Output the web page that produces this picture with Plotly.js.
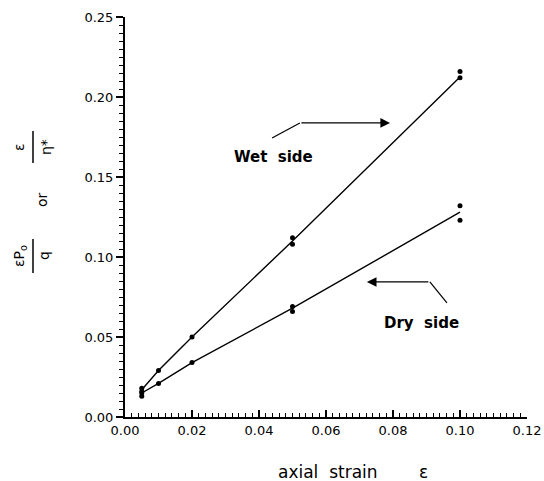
<!DOCTYPE html>
<html>
<head>
<meta charset="utf-8">
<script src="https://cdn.plot.ly/plotly-3.0.1.min.js"></script>
<style>html,body{margin:0;padding:0;background:#fff;}</style>
</head>
<body>
<div id="chart" style="width:544px;height:481px;"></div>
<script>
// Measured points (replicates)
var wetX = [0.005, 0.005, 0.01, 0.02, 0.05, 0.05, 0.10, 0.10];
var wetY = [0.018, 0.016, 0.029, 0.050, 0.112, 0.108, 0.216, 0.212];
var dryX = [0.005, 0.005, 0.01, 0.02, 0.05, 0.05, 0.10, 0.10];
var dryY = [0.015, 0.013, 0.021, 0.034, 0.069, 0.066, 0.132, 0.123];
// Connecting lines
var wetLineX = [0.005, 0.01, 0.02, 0.05, 0.10];
var wetLineY = [0.017, 0.029, 0.050, 0.110, 0.2125];
var dryLineX = [0.005, 0.01, 0.02, 0.05, 0.10];
var dryLineY = [0.015, 0.021, 0.034, 0.068, 0.128];
var xTicks = [0, 0.02, 0.04, 0.06, 0.08, 0.10, 0.12];
var xTickText = ['0.00', '0.02', '0.04', '0.06', '0.08', '0.10', '0.12'];
var yTicks = [0, 0.05, 0.10, 0.15, 0.20, 0.25];
var yTickText = ['0.00', '0.05', '0.10', '0.15', '0.20', '0.25'];

var FONT = 'DejaVu Sans, sans-serif';
var L = 125, R = 17, T = 17, B = 64, W = 544, H = 481;
function px(x) { return (x - L) / (W - L - R); }
function py(y) { return (H - B - y) / (H - T - B); }

var traces = [
  {x: wetLineX, y: wetLineY, mode: 'lines', line: {color: '#000', width: 1.4}, hoverinfo: 'skip'},
  {x: dryLineX, y: dryLineY, mode: 'lines', line: {color: '#000', width: 1.4}, hoverinfo: 'skip'},
  {x: wetX, y: wetY, mode: 'markers', marker: {color: '#000', size: 5}},
  {x: dryX, y: dryY, mode: 'markers', marker: {color: '#000', size: 5}}
];

var lab = {family: FONT, size: 14, color: '#000'};
function ylab(x, y, t) {
  return {xref: 'paper', yref: 'paper', x: px(x), y: py(y), xanchor: 'center', yanchor: 'middle',
          text: t, textangle: -90, showarrow: false, font: lab};
}
function xlab(x, y, t) {
  return {xref: 'paper', yref: 'paper', x: px(x), y: py(y), xanchor: 'center', yanchor: 'middle',
          text: t, showarrow: false, font: {family: FONT, size: 17, color: '#000'}};
}
var layout = {
  width: W, height: H,
  margin: {l: L, r: R, t: T, b: B},
  paper_bgcolor: '#fff', plot_bgcolor: '#fff',
  showlegend: false,
  font: {family: FONT, size: 13, color: '#000'},
  xaxis: {
    range: [0, 0.12], tickvals: xTicks, ticktext: xTickText,
    showgrid: false, zeroline: false, showline: true, linecolor: '#000', linewidth: 2,
    ticks: 'inside', ticklen: 7, tickwidth: 1.5, tickcolor: '#000',
    minor: {dtick: 0.002, ticks: 'inside', ticklen: 4, tickwidth: 1, tickcolor: '#000'},
    tickfont: {family: FONT, size: 13, color: '#000'}
  },
  yaxis: {
    range: [0, 0.25], tickvals: yTicks, ticktext: yTickText,
    showgrid: false, zeroline: false, showline: true, linecolor: '#000', linewidth: 2,
    ticks: 'outside', ticklen: 7, tickwidth: 1.5, tickcolor: '#000',
    minor: {dtick: 0.005, ticks: 'outside', ticklen: 4, tickwidth: 1, tickcolor: '#000'},
    tickfont: {family: FONT, size: 13, color: '#000'}
  },
  shapes: [
    {type: 'line', xref: 'x', yref: 'y', x0: 0.0439, y0: 0.1744, x1: 0.0522, y1: 0.1838, line: {color: '#000', width: 1.2}},
    {type: 'line', xref: 'x', yref: 'y', x0: 0.0961, y0: 0.0713, x1: 0.0910, y1: 0.0844, line: {color: '#000', width: 1.2}},
    {type: 'line', xref: 'paper', yref: 'paper', x0: px(33), x1: px(33), y0: py(239), y1: py(273), line: {color: '#000', width: 1.5}},
    {type: 'line', xref: 'paper', yref: 'paper', x0: px(33), x1: px(33), y0: py(131), y1: py(163), line: {color: '#000', width: 1.5}}
  ],
  annotations: [
    {xref: 'x', yref: 'y', axref: 'x', ayref: 'y', x: 0.0791, y: 0.1838, ax: 0.0522, ay: 0.1838, text: '', showarrow: true, arrowhead: 2, arrowsize: 1.6, arrowwidth: 1.2, arrowcolor: '#000'},
    {xref: 'x', yref: 'y', axref: 'x', ayref: 'y', x: 0.0722, y: 0.0844, ax: 0.0910, ay: 0.0844, text: '', showarrow: true, arrowhead: 2, arrowsize: 1.6, arrowwidth: 1.2, arrowcolor: '#000'},
    {xref: 'x', yref: 'y', x: 0.0443, y: 0.1628, text: '<b>Wet  side</b>', showarrow: false, font: {family: FONT, size: 15, color: '#000'}},
    {xref: 'x', yref: 'y', x: 0.0884, y: 0.0588, text: '<b>Dry  side</b>', showarrow: false, font: {family: FONT, size: 15, color: '#000'}},
    ylab(20, 256, 'εP<sub>o</sub>'),
    ylab(44, 256, 'q'),
    ylab(42, 200, 'or'),
    ylab(19, 147, 'ε'),
    ylab(46, 147, 'η*'),
    xlab(328, 472, 'axial  strain'),
    xlab(423, 472, 'ε')
  ]
};

Plotly.newPlot('chart', traces, layout, {staticPlot: true, displayModeBar: false});
</script>
</body>
</html>
